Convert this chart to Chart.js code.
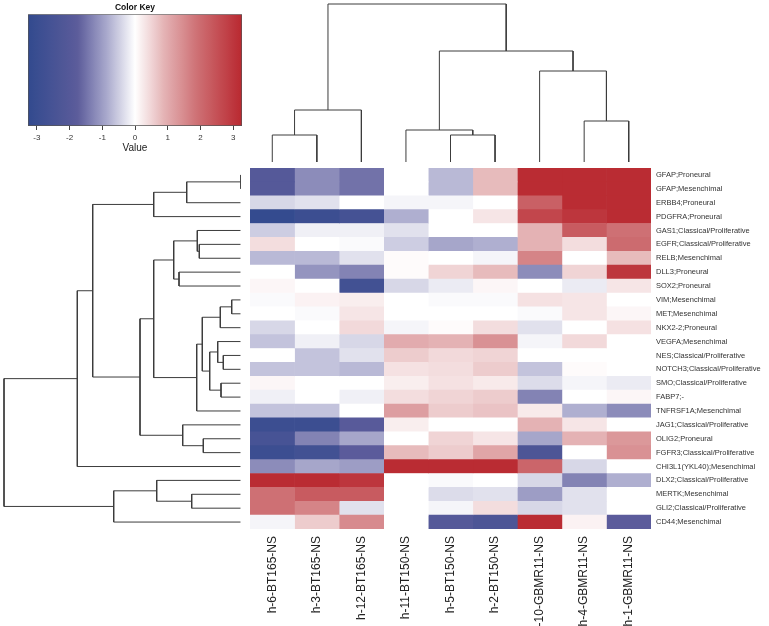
<!DOCTYPE html>
<html><head><meta charset="utf-8">
<script src="https://cdn.jsdelivr.net/npm/chart.js@4.4.1/dist/chart.umd.min.js"></script>
<style>
html,body{margin:0;padding:0;background:#fff;}
#wrap{position:relative;width:769px;height:626px;overflow:hidden;background:#fff;}
.box{position:absolute;}
canvas{display:block;}
</style></head><body>
<div id="wrap">
<div class="box" style="left:0;top:0;"><canvas id="key" width="250" height="160"></canvas></div>
<div class="box" style="left:250px;top:0;"><canvas id="coldend" width="401" height="168"></canvas></div>
<div class="box" style="left:0;top:168px;"><canvas id="rowdend" width="250" height="361"></canvas></div>
<div class="box" style="left:250px;top:168px;"><canvas id="heat" width="519" height="458"></canvas></div>
</div>
<script>
// ---------- data ----------
const columns = ["h-6-BT165-NS","h-3-BT165-NS","h-12-BT165-NS","h-11-BT150-NS","h-5-BT150-NS","h-2-BT150-NS","h-10-GBMR11-NS","h-4-GBMR11-NS","h-1-GBMR11-NS"];
const rows = ["GFAP;Proneural","GFAP;Mesenchimal","ERBB4;Proneural","PDGFRA;Proneural","GAS1;Classical/Proliferative","EGFR;Classical/Proliferative","RELB;Mesenchimal","DLL3;Proneural","SOX2;Proneural","VIM;Mesenchimal","MET;Mesenchimal","NKX2-2;Proneural","VEGFA;Mesenchimal","NES;Classical/Proliferative","NOTCH3;Classical/Proliferative","SMO;Classical/Proliferative","FABP7;-","TNFRSF1A;Mesenchimal","JAG1;Classical/Proliferative","OLIG2;Proneural","FGFR3;Classical/Proliferative","CHI3L1(YKL40);Mesenchimal","DLX2;Classical/Proliferative","MERTK;Mesenchimal","GLI2;Classical/Proliferative","CD44;Mesenchimal"];
const values = [
 [-2.0,-1.2,-1.5, 0.0,-0.7, 0.8, 3.2, 3.2, 3.2],
 [-2.0,-1.2,-1.5, 0.0,-0.7, 0.8, 3.2, 3.2, 3.2],
 [-0.4,-0.3, 0.0,-0.1,-0.1, 0.0, 2.2, 3.2, 3.2],
 [-3.2,-2.9,-2.6,-0.8, 0.0, 0.3, 2.7, 3.0, 3.2],
 [-0.5,-0.15,-0.15,-0.3,0.0, 0.0, 0.9, 2.3, 1.9],
 [ 0.4, 0.0,-0.05,-0.5,-0.9,-0.8, 0.9, 0.4, 2.0],
 [-0.7,-0.7,-0.3, 0.05,0.0,-0.1, 1.6, 0.0, 0.8],
 [ 0.0,-1.1,-1.3, 0.05,0.5, 0.8,-1.2, 0.5, 3.0],
 [ 0.1, 0.0,-2.7,-0.4,-0.2, 0.1, 0.0,-0.2, 0.3],
 [-0.05,0.15,0.2, 0.0,-0.05,-0.05,0.35,0.3, 0.0],
 [ 0.0,-0.05,0.3, 0.0, 0.0, 0.0,-0.05,0.3, 0.1],
 [-0.4, 0.0, 0.45,-0.1,0.05,0.4,-0.3, 0.0, 0.35],
 [-0.6,-0.15,-0.4,1.0, 0.9, 1.4,-0.1, 0.45,0.0],
 [ 0.0,-0.6,-0.3, 0.6, 0.45,0.5, 0.0, 0.0, 0.0],
 [-0.6,-0.6,-0.7, 0.35,0.4, 0.6,-0.6, 0.05,0.0],
 [ 0.1, 0.0, 0.0, 0.2, 0.35,0.25,-0.35,-0.1,-0.2],
 [-0.15,0.0,-0.15,0.4, 0.5, 0.6,-1.3, 0.0, 0.1],
 [-0.6,-0.6, 0.0, 1.2, 0.6, 0.7, 0.25,-0.8,-1.2],
 [-2.9,-2.9,-1.9, 0.2, 0.0, 0.0, 0.9, 0.3, 0.0],
 [-2.5,-1.3,-0.9, 0.0, 0.5, 0.3,-0.9, 0.9, 1.3],
 [-2.9,-2.7,-1.8, 0.8, 0.6, 1.1,-2.3, 0.0, 1.4],
 [-1.2,-0.9,-1.0, 3.2, 3.2, 3.2, 2.1,-0.4, 0.0],
 [ 3.2, 3.2, 3.0, 0.0,-0.05,0.0,-0.4,-1.3,-0.8],
 [ 1.9, 2.3, 2.3, 0.0,-0.35,-0.3,-1.0,-0.3, 0.0],
 [ 1.9, 1.6,-0.3, 0.0,-0.1, 0.4,-0.4,-0.3, 0.0],
 [-0.1, 0.6, 1.5, 0.0,-2.0,-2.3, 3.2, 0.15,-1.8]
];
// dendrograms (hclust style: negative = leaf number, positive = earlier merge number)
const colMerge = [[-1,-2],[-5,-6],[-8,-9],[1,-3],[-4,2],[-7,3],[5,6],[4,7]];
const colHeight = [2.7,2.7,4.1,5.2,3.2,9.1,11.1,15.8];
const rowMerge = [[-1,-2],[1,-3],[2,-4],[-6,-7],[-5,4],[-8,-9],[5,6],[-10,-11],[8,-12],[-14,-15],[-13,10],[-16,-17],[11,12],[9,13],[14,-18],[7,15],[-20,-21],[-19,17],[16,18],[3,19],[20,-22],[-24,-25],[-23,22],[23,-26],[21,24]];
const rowHeight = [0,5.4,8.7,4.14,4.34,6.17,6.7,0.9,2.04,1.74,2.3,1.97,3.1,3.84,4.4,8.7,3.74,5.8,10.07,14.8,16.34,4.9,8.4,12.7,23.67];
const keyTicks = [-3,-2,-1,0,1,2,3];
const keyRange = [-3.27, 3.27];

// ---------- colour map ----------
const stops = [
 [-3.27,[50,74,142]],[-1.75,[92,92,155]],[-0.85,[170,170,205]],[0,[255,255,255]],
 [0.9,[228,178,180]],[1.9,[206,112,116]],[3.27,[185,40,48]]
];
function colorFor(v){
  if (v<=stops[0][0]) v=stops[0][0];
  if (v>=stops[stops.length-1][0]) v=stops[stops.length-1][0];
  for (let i=0;i<stops.length-1;i++){
    const [a,ca]=stops[i],[b,cb]=stops[i+1];
    if (v>=a && v<=b){
      const t=(v-a)/(b-a);
      const c=ca.map((x,k)=>Math.round(x+(cb[k]-x)*t));
      return `rgb(${c[0]},${c[1]},${c[2]})`;
    }
  }
  return '#fff';
}

const FONT = "'Liberation Sans', Arial, Helvetica, sans-serif";
const LINE = '#3c3c3c';

function dendroSegments(merge, heights, orient){
  const pos = [], h = [];
  const segs = [];
  const getPos = r => r<0 ? (-r-1)+0.5 : pos[r-1];
  const getH = r => r<0 ? 0 : h[r-1];
  merge.forEach((m,i)=>{
    const [a,b]=m; const pa=getPos(a), pb=getPos(b), ha=getH(a), hb=getH(b), hh=heights[i];
    pos.push((pa+pb)/2); h.push(hh);
    const pts = [[pa,ha],[pa,hh],[pb,hh],[pb,hb]];
    segs.push(pts.map(p => orient==='col' ? {x:p[0], y:p[1]} : {x:p[1], y:p[0]}));
  });
  return segs;
}
function lineDatasets(segs){
  return segs.map(s=>({data:s, showLine:true, borderColor:LINE, borderWidth:1, pointRadius:0, fill:false, tension:0}));
}
const common = {responsive:false, animation:false, events:[], plugins:{legend:{display:false}, tooltip:{enabled:false}}};
function noPad(s){ s.paddingTop=0; s.paddingBottom=0; s.paddingLeft=0; s.paddingRight=0; }

new Chart(document.getElementById('coldend'), {
  type:'scatter',
  data:{datasets: lineDatasets(dendroSegments(colMerge, colHeight, 'col'))},
  options:{...common, layout:{padding:{bottom:6}},
    scales:{x:{type:'linear', min:0, max:columns.length, display:false},
            y:{type:'linear', min:0, max:16.2, display:false}}}
});

new Chart(document.getElementById('rowdend'), {
  type:'scatter',
  data:{datasets: lineDatasets(dendroSegments(rowMerge, rowHeight, 'row'))},
  options:{...common, layout:{padding:{right:9.3}},
    scales:{x:{type:'linear', min:0, max:24.07, reverse:true, display:false},
            y:{type:'linear', min:0, max:rows.length, reverse:true, display:false}}}
});

new Chart(document.getElementById('heat'), {
  type:'bar',
  data:{labels: rows, datasets: columns.map((c,j)=>({
    label:c, data: rows.map(()=>1),
    backgroundColor: values.map(r=>colorFor(r[j])),
    borderWidth:0, barPercentage:1, categoryPercentage:1, xAxisID:'x', yAxisID:'y'}))},
  options:{...common, indexAxis:'y',
    scales:{
      x:{type:'linear', stacked:true, min:0, max:columns.length, display:false},
      y:{type:'category', stacked:true, position:'right', offset:true,
         grid:{display:false, drawTicks:false}, border:{display:false},
         ticks:{autoSkip:false, padding:5, color:'#333', font:{family:FONT, size:7.5}},
         afterFit(s){ s.width = 118; noPad(s); }},
      xl:{type:'category', axis:'x', labels: columns, position:'bottom', offset:true,
         grid:{display:false, drawTicks:false}, border:{display:false},
         ticks:{autoSkip:false, minRotation:90, maxRotation:90, padding:7, color:'#222', font:{family:FONT, size:12}},
         afterFit(s){ s.height = 97; noPad(s); }}
    }}
});

new Chart(document.getElementById('key'), {
  type:'bar',
  data:{labels:['Value'], datasets:[{
    data:[keyRange],
    backgroundColor(ctx){
      const ch = ctx.chart; if (!ch.chartArea) return '#fff';
      const xs = ch.scales.x;
      const g = ch.ctx.createLinearGradient(xs.getPixelForValue(keyRange[0]),0,xs.getPixelForValue(keyRange[1]),0);
      const n = 60;
      for (let i=0;i<=n;i++){ const v = keyRange[0]+(keyRange[1]-keyRange[0])*i/n; g.addColorStop(i/n, colorFor(v)); }
      return g;
    },
    borderColor:'#555', borderWidth:1, borderSkipped:false, barPercentage:1, categoryPercentage:1}]},
  options:{...common, indexAxis:'y', layout:{padding:{left:28, right:8}},
    plugins:{legend:{display:false}, tooltip:{enabled:false},
      title:{display:true, text:'Color Key', color:'#111', font:{family:FONT, size:8.5, weight:'bold'}, padding:{top:3,bottom:1}}},
    scales:{
      x:{type:'linear', min:keyRange[0], max:keyRange[1],
         afterBuildTicks(s){ s.ticks = keyTicks.map(v=>({value:v})); },
         afterFit(s){ s.height = 34; s.paddingLeft = 0; s.paddingRight = 0; },
         grid:{display:true, drawOnChartArea:false, drawTicks:true, tickLength:4, color:'#444'},
         border:{display:false},
         ticks:{padding:4, color:'#333', font:{family:FONT, size:8, lineHeight:1}},
         title:{display:true, text:'Value', color:'#222', font:{family:FONT, size:10, lineHeight:1.2}, padding:{top:0,bottom:6}}},
      y:{display:false}
    }}
});
</script>
</body></html>
